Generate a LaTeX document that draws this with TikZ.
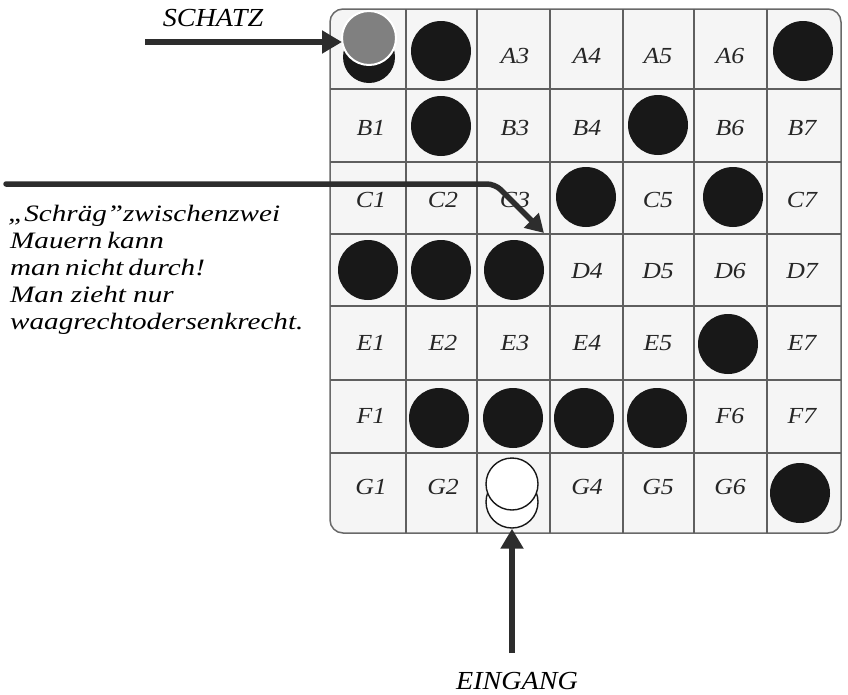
\documentclass[tikz,border=0pt]{standalone}
\usepackage{fontspec}
\setmainfont{Liberation Serif}
\usetikzlibrary{arrows.meta}
\definecolor{boardfill}{RGB}{245,245,245}
\definecolor{boardedge}{RGB}{105,105,105}
\definecolor{gridc}{RGB}{95,95,95}
\definecolor{piece}{RGB}{24,24,24}
\definecolor{treasure}{RGB}{128,128,128}
\definecolor{arrowc}{RGB}{45,45,45}
\begin{document}
\begin{tikzpicture}[x=1pt,y=-1pt,
  blackpiece/.style={circle, fill=piece, minimum size=60pt, inner sep=0pt},
  whitepiece/.style={circle, fill=white, draw=piece, line width=1.4pt, minimum size=52pt, inner sep=0pt},
  lbl/.style={font=\fontsize{23}{25}\selectfont\itshape, inner sep=0pt, text=black!85},
  bigtext/.style={font=\fontsize{26}{28}\selectfont\itshape, inner sep=0pt},
  sidetext/.style={font=\fontsize{23.5}{27}\selectfont\itshape, inner sep=0pt, anchor=base west},
  arr/.style={draw=arrowc, line width=5.5pt, -{Triangle[length=20pt,width=22pt]}}
]
\useasboundingbox (0,0) rectangle (848,694);

% board
\path[fill=boardfill, draw=boardedge, line width=1.5pt, rounded corners=13pt] (330,9) rectangle (841,533);
\foreach \x in {406,477,550,623,694,767} \draw[gridc, line width=1.2pt] (\x,9) -- (\x,533);
\foreach \y in {89,162,234,306,380,453} \draw[gridc, line width=1.2pt] (330,\y) -- (841,\y);

% labels
\foreach \t/\x/\y in {A3/515/56, A4/587/56, A5/658/56, A6/730/56,
  B1/371/128, B3/515/128, B4/587/128, B6/730/128, B7/802/128,
  C1/371/200, C2/443/200, C3/515/200, C5/658/200, C7/802/200,
  D4/587/271, D5/658/271, D6/730/271, D7/802/271,
  E1/371/343, E2/443/343, E3/515/343, E4/587/343, E5/658/343, E7/802/343,
  F1/371/416, F6/730/416, F7/802/416,
  G1/371/487, G2/443/487, G4/587/487, G5/658/487, G6/730/487}
  \node[lbl] (l\t) at (\x,\y) {\scalebox{1.12}[1]{\t}};

% black pieces
\foreach \t/\x/\y in {A2/441/51, A7/803/51, B2/441/126, B5/658/125,
  C4/586/197, C6/733/197, D1/368/270, D2/441/270, D3/514/270,
  E6/728/344, F2/439/418, F3/513/418, F4/584/418, F5/657/418, G7/800/493}
  \node[blackpiece] (p\t) at (\x,\y) {};

% treasure on A1
\node[blackpiece, minimum size=52pt] (tbase) at (369,57) {};
\node[circle, fill=treasure, draw=white, line width=2pt, minimum size=54pt, inner sep=0pt] (treasure) at (369,38) {};

% entrance pieces on G3
\node[whitepiece] (wlow) at (512,502) {};
\node[whitepiece] (wup) at (512,484) {};

% texts
\node[bigtext] (schatz) at (213,18) {\scalebox{1.08}[1]{SCHATZ}};
\node[bigtext] (eingang) at (517,681) {\scalebox{1.08}[1]{EINGANG}};
\node[sidetext] (s1) at (8,221) {\scalebox{1.24}[1]{„Schräg"zwischenzwei}};
\node[sidetext] (s2) at (10,248) {\scalebox{1.24}[1]{Mauern\,kann}};
\node[sidetext] (s3) at (10,275) {\scalebox{1.24}[1]{man\,nicht\,durch!}};
\node[sidetext] (s4) at (10,302) {\scalebox{1.24}[1]{Man zieht nur}};
\node[sidetext] (s5) at (10,329) {\scalebox{1.24}[1]{waagrechtodersenkrecht.}};

% arrows
\coordinate (sa) at (145,42);
\coordinate (sb) at (342,42);
\draw[arr] (sa) -- (sb);
\coordinate (la) at (6,184);
\coordinate (lb) at (495,184);
\coordinate (lc) at (544,233);
\draw[arr, line cap=round, rounded corners=8pt, -{Triangle[length=18pt,width=20pt]}] (la) -- (lb) -- (lc);
\coordinate (ea) at (512,653);
\draw[arr] (ea) -- (wlow.south);
\end{tikzpicture}
\end{document}
